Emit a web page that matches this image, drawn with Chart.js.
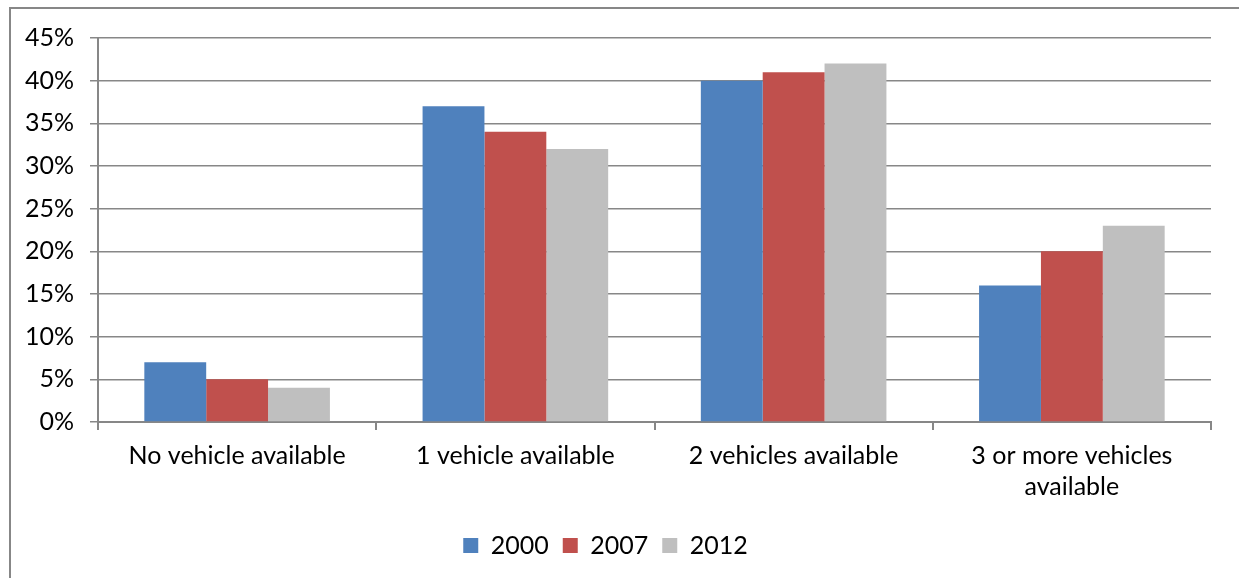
<!DOCTYPE html>
<html>
<head>
<meta charset="utf-8">
<script src="https://cdn.jsdelivr.net/npm/chart.js@4"></script>
<style>
  html, body { margin: 0; padding: 0; background: #fff; overflow: hidden; }
  #frame {
    position: absolute; left: 9px; top: 7px;
    width: 1400px; height: 800px;
    border: 2px solid #878787;
  }
  #myChart { position: absolute; left: 0; top: 0; }
</style>
</head>
<body>
<div id="frame"></div>
<canvas id="myChart" width="1239" height="578"></canvas>
<script>
const categorias = ["No vehicle available", "1 vehicle available", "2 vehicles available", ["3 or more vehicles", "available"]];
const anios = ["2000", "2007", "2012"];
const valores2000 = [7, 37, 40, 16];
const valores2007 = [5, 34, 41, 20];
const valores2012 = [4, 32, 42, 23];
const colores = ["#4F81BD", "#C0504D", "#BFBFBF"];
const lineas = "#878787";

const fuente = { family: "Lato, 'Open Sans', sans-serif", size: 25, lineHeight: 1.25 };

const ctx = document.getElementById("myChart");
new Chart(ctx, {
  type: "bar",
  data: {
    labels: categorias,
    datasets: [valores2000, valores2007, valores2012].map((v, i) => ({
      label: anios[i],
      data: v,
      backgroundColor: colores[i],
      borderWidth: 0,
      categoryPercentage: 0.667,
      barPercentage: 1
    }))
  },
  options: {
    responsive: false,
    animation: false,
    layout: { padding: { left: 0, right: 28, top: 38, bottom: 10 } },
    plugins: {
      tooltip: { enabled: false },
      legend: {
        position: "bottom",
        labels: {
          color: "#000",
          font: fuente,
          boxWidth: 15,
          boxHeight: 15,
          padding: 14
        }
      }
    },
    scales: {
      x: {
        grid: { drawOnChartArea: false, drawTicks: true, tickLength: 8, color: lineas, lineWidth: 2 },
        border: { color: lineas, width: 2 },
        ticks: { color: "#000", font: fuente, padding: 10, maxRotation: 0 },
        afterFit: (s) => { s.height = 97; }
      },
      y: {
        min: 0,
        max: 45,
        grid: { color: lineas, lineWidth: 1.5, tickLength: 8 },
        border: { color: lineas, width: 2 },
        ticks: {
          stepSize: 5,
          color: "#000",
          font: fuente,
          padding: 16,
          callback: (v) => v + "%"
        },
        afterFit: (s) => { s.width = 98; }
      }
    }
  }
});
</script>
</body>
</html>
